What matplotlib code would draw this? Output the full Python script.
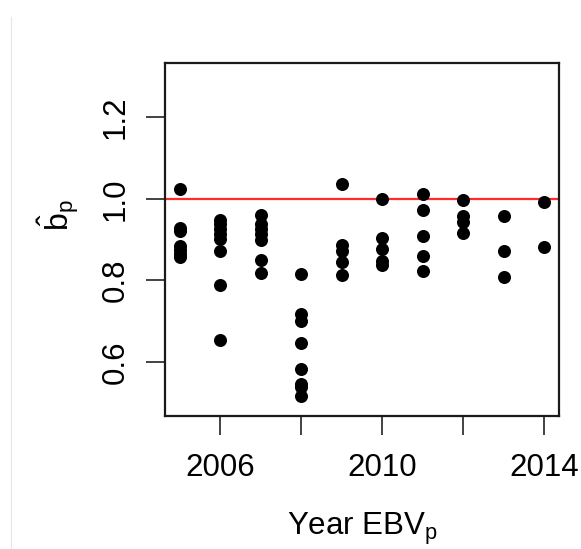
import matplotlib
matplotlib.use("Agg")
import matplotlib.pyplot as plt
from matplotlib.lines import Line2D

plt.rcParams['font.family'] = ['Liberation Sans', 'DejaVu Sans']
plt.rcParams['mathtext.fontset'] = 'custom'
plt.rcParams['mathtext.rm'] = 'Liberation Sans'
plt.rcParams['mathtext.it'] = 'Liberation Sans'
plt.rcParams['mathtext.bf'] = 'Liberation Sans:bold'

# Data
years = ([2005] * 7 + [2006] * 8 + [2007] * 7 + [2008] * 8 + [2009] * 5 +
         [2010] * 5 + [2011] * 5 + [2012] * 4 + [2013] * 3 + [2014] * 2)
b_hat = [
    1.025, 0.929, 0.920, 0.884, 0.875, 0.866, 0.858,             # 2005
    0.949, 0.939, 0.927, 0.914, 0.902, 0.873, 0.789, 0.653,      # 2006
    0.961, 0.939, 0.927, 0.914, 0.900, 0.851, 0.819,             # 2007
    0.816, 0.718, 0.700, 0.647, 0.584, 0.547, 0.539, 0.517,      # 2008
    1.037, 0.887, 0.873, 0.845, 0.814,                           # 2009
    1.000, 0.904, 0.877, 0.847, 0.837,                           # 2010
    1.012, 0.973, 0.910, 0.861, 0.822,                           # 2011
    0.996, 0.957, 0.943, 0.917,                                  # 2012
    0.959, 0.873, 0.808,                                         # 2013
    0.992, 0.883,                                                # 2014
]
x_ticks = [2006, 2008, 2010, 2012, 2014]
x_tick_labels = ['2006', '', '2010', '', '2014']
y_ticks = [0.6, 0.8, 1.0, 1.2]
y_tick_labels = ['0.6', '0.8', '1.0', '1.2']
ref_value = 1.0

fig = plt.figure(figsize=(5.81, 5.49), dpi=100)
ax = fig.add_axes([0.284, 0.2423, 0.678, 0.6424])

ax.scatter(years, b_hat, s=88, color='black', zorder=3, linewidths=0)
ax.axhline(ref_value, color='#ff2a2a', lw=1.6, zorder=2)

ax.set_xlim(2004.64, 2014.36)
ax.set_ylim(0.468, 1.332)

ax.set_xticks(x_ticks)
ax.set_xticklabels(x_tick_labels)
ax.set_yticks(y_ticks)
ax.set_yticklabels(y_tick_labels, rotation=90, va='center')

ax.tick_params(axis='both', direction='out', length=13.5, width=1.2,
               labelsize=22.5, color='#222222')
ax.tick_params(axis='x', pad=13)
ax.tick_params(axis='y', pad=11)

for sp in ax.spines.values():
    sp.set_linewidth(1.6)
    sp.set_color('#1a1a1a')

fig.text(362 / 581, 1 - 529 / 549, 'Year EBV$_\\mathrm{p}$', ha='center',
         va='center', fontsize=22.5)
fig.text(58 / 581, 1 - 215 / 549, '$\\hat{\\mathrm{b}}_\\mathrm{p}$', ha='center',
         va='center', fontsize=23, rotation=90)

# faint border artifact present in the reference
fig.add_artist(Line2D([10.5 / 581, 10.5 / 581], [0, 1 - 17 / 549],
                      color='#e6e6e6', lw=0.8))

fig.savefig('out.png', dpi=100)
